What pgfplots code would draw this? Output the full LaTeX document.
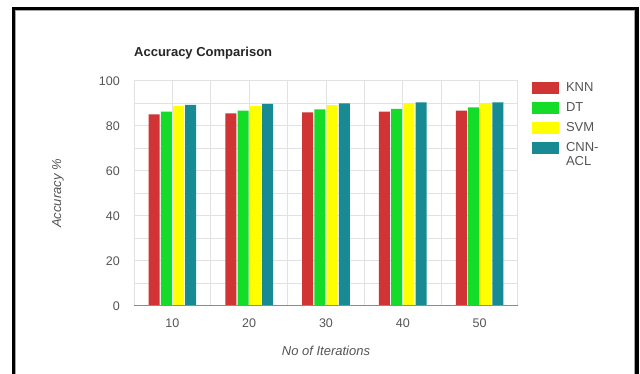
\documentclass[border=0pt]{standalone}
\usepackage{fontspec}
\setmainfont{Liberation Sans}
\usepackage{pgfplots}
\usepackage{pgfplotstable}
\pgfplotsset{compat=1.18}

\definecolor{knn}{HTML}{D03434}
\definecolor{dt}{HTML}{14DC28}
\definecolor{svm}{HTML}{FFFF00}
\definecolor{cnn}{HTML}{178A94}
\definecolor{gridc}{HTML}{E2E2E2}
\definecolor{txt}{HTML}{555555}

% accuracy (%) per number of iterations
\pgfplotstableread{
idx iter knn  dt   svm  cnn
0   10   85.2 86.4 88.9 89.4
1   20   85.6 86.8 88.9 89.8
2   30   86.1 87.4 89.3 90.1
3   40   86.4 87.6 89.8 90.5
4   50   86.8 88.3 89.8 90.5
}\acctable

\begin{document}
\begin{tikzpicture}[x=1pt,y=1pt]
\fill[white] (0,0) rectangle (640,374);
\path[use as bounding box] (0,0) rectangle (640,374);
% panel frame (open at the bottom)
\draw[black!35, line width=1pt] (15.8,-2) -- (15.8,363.3) -- (634.2,363.3) -- (634.2,-2);
\draw[black, line width=3.2pt] (13.5,-2) -- (13.5,365.4) -- (637,365.4) -- (637,-2);

\begin{axis}[
  at={(134pt,68pt)}, anchor=south west,
  scale only axis, width=384pt, height=225pt,
  xmin=-0.5, xmax=4.5, ymin=0, ymax=100,
  ybar=1.2pt, bar width=11pt,
  xtick={0,...,4}, xticklabels={10,20,30,40,50},
  minor xtick={0.5,1.5,2.5,3.5},
  ytick={0,20,...,100}, minor ytick={10,30,...,90},
  grid=both,
  major grid style={gridc, line width=1pt},
  minor grid style={gridc, line width=1pt},
  axis line style={gridc, line width=1pt},
  tick style={draw=none},
  /pgf/number format/assume math mode=true,
  ticklabel style={font=\fontsize{12.5}{15}\selectfont, text=txt, inner sep=0pt},
  yticklabel style={anchor=east, xshift=-14pt},
  xticklabel style={anchor=north, yshift=-8.5pt},
  title={Accuracy Comparison},
  title style={at={(axis description cs:0,1)}, anchor=base west, yshift=18pt,
    inner sep=0pt, font=\bfseries\fontsize{13}{15}\selectfont, text=black!85},
  ylabel={Accuracy \%},
  ylabel style={at={(axis description cs:-0.198,0.5)}, anchor=center, rotate=0,
    font=\itshape\fontsize{13}{15}\selectfont, text=txt},
  xlabel={No of Iterations},
  xlabel style={at={(axis description cs:0.5,0)}, anchor=center, yshift=-44.5pt,
    font=\itshape\fontsize{13}{15}\selectfont, text=txt},
  legend style={at={(axis description cs:1.036,1)}, anchor=north west, yshift=2.25pt,
    draw=none, fill=none, inner sep=0pt,
    font=\fontsize{13}{14}\selectfont, text=txt,
    cells={anchor=west, align=left}, row sep=2.5pt},
  every axis plot post/.append style={
    legend image code/.code={%
      \fill[##1] (0pt,-6pt) rectangle (27pt,6pt);
      \path (32pt,-8.75pt) (32pt,8.75pt);}},
]
\addplot[fill=knn, draw=none] table[x=idx, y=knn] {\acctable};
\addplot[fill=dt,  draw=none] table[x=idx, y=dt]  {\acctable};
\addplot[fill=svm, draw=none] table[x=idx, y=svm] {\acctable};
\addplot[fill=cnn, draw=none, legend image post style={yshift=7pt}] table[x=idx, y=cnn] {\acctable};
\legend{KNN, DT, SVM, CNN-\\ACL}
% baseline
\draw[black!45, line width=1.5pt] (rel axis cs:0,0) -- (rel axis cs:1,0);
\end{axis}
\end{tikzpicture}
\end{document}
